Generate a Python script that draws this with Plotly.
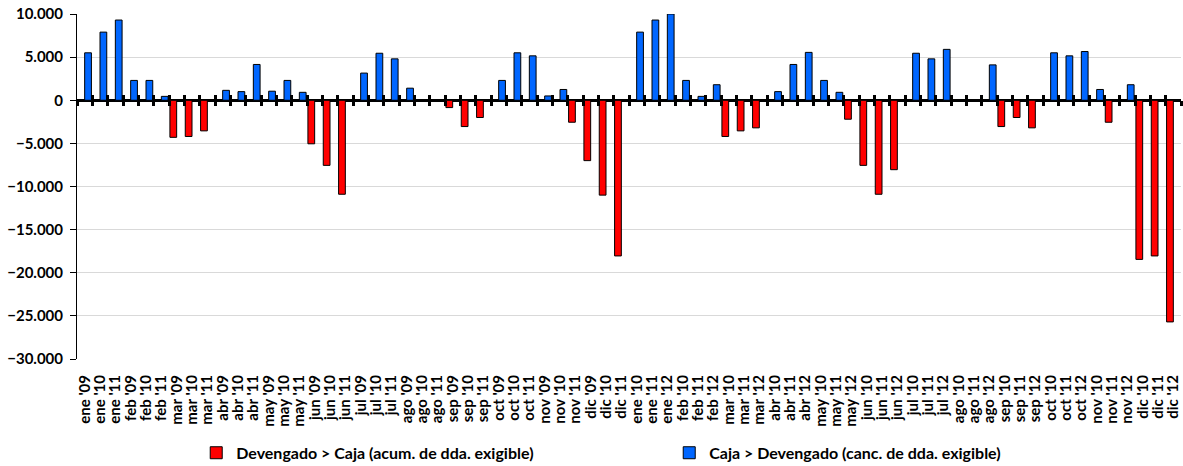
import plotly.graph_objects as go

months = ["ene", "feb", "mar", "abr", "may", "jun", "jul", "ago", "sep", "oct", "nov", "dic"]
years_block1 = ["09", "10", "11"]
years_block2 = ["10", "11", "12"]

labels = [f"{m} '{y}" for m in months for y in years_block1] + \
         [f"{m} '{y}" for m in months for y in years_block2]

# Devengado > Caja (acum. de dda. exigible)
red_vals = [
    None, None, None, None, None, None, -4300, -4200, -3550, None, None, None,
    None, None, None, -5050, -7550, -10900, None, None, None, None, None, None,
    -850, -3050, -2000, None, None, None, None, None, -2550, -7000, -11000, -18050,
    None, None, None, None, None, None, -4200, -3550, -3200, None, None, None,
    None, None, -2200, -7550, -10900, -8050, None, None, None, None, None, None,
    -3050, -2000, -3200, None, None, None, None, -2550, None, -18450, -18050, -25700,
]

# Caja > Devengado (canc. de dda. exigible)
blue_vals = [
    5500, 7900, 9300, 2300, 2300, 450, None, None, None, 1150, 1000, 4150,
    1050, 2300, 920, None, None, None, 3150, 5450, 4800, 1400, 0, 0,
    None, None, None, 2300, 5500, 5150, 500, 1250, None, None, None, None,
    7900, 9300, 10000, 2300, 450, 1800, None, None, None, 1000, 4150, 5550,
    2300, 920, None, None, None, None, 5450, 4800, 5900, 0, 0, 4100,
    None, None, None, 5500, 5150, 5650, 1250, None, 1800, None, None, None,
]

series_names = ["Devengado > Caja (acum. de dda. exigible)",
                "Caja > Devengado (canc. de dda. exigible)"]

FONT = "Lato"
idx = list(range(len(labels)))

fig = go.Figure()
fig.add_trace(go.Bar(x=idx, y=red_vals, name=series_names[0],
                     marker=dict(color="#ff0000", line=dict(color="black", width=1))))
fig.add_trace(go.Bar(x=idx, y=blue_vals, name=series_names[1],
                     marker=dict(color="#0066ff", line=dict(color="black", width=1))))

# empty helper traces so the overlaid tick axes (category boundary ticks on the zero line) render
fig.add_trace(go.Scatter(x=[], y=[], xaxis="x2", yaxis="y", showlegend=False, hoverinfo="skip"))
fig.add_trace(go.Scatter(x=[], y=[], xaxis="x3", yaxis="y", showlegend=False, hoverinfo="skip"))

n = len(labels)
boundaries = [i - 0.5 for i in range(n + 1)]
xr = [-0.5, n - 0.5]

tick_axis_common = dict(overlaying="x", anchor="free", position=0.75, range=xr,
                        tickmode="array", tickvals=boundaries, showticklabels=False,
                        showgrid=False, zeroline=False, showline=False,
                        ticklen=5, tickwidth=2.5, tickcolor="black")

fig.update_layout(
    width=1183, height=466,
    margin=dict(l=77, r=2, t=14, b=107, autoexpand=False),
    paper_bgcolor="white", plot_bgcolor="white",
    separators=",.",
    barmode="group", bargap=0.12, bargroupgap=0,
    font=dict(family=FONT, color="black", size=12),
    xaxis=dict(range=xr, tickmode="array", tickvals=idx, ticktext=labels,
               tickangle=-90, showgrid=False, zeroline=False, showline=False, ticks="",
               automargin=False,
               tickfont=dict(family=FONT, size=15, weight="bold"), ticklabelstandoff=12),
    xaxis2=dict(ticks="outside", **tick_axis_common),
    xaxis3=dict(ticks="inside", **tick_axis_common),
    yaxis=dict(range=[-30000, 10000], dtick=5000, tickformat=",d",
               showgrid=True, gridcolor="#d9d9d9", gridwidth=1,
               zeroline=True, zerolinecolor="black", zerolinewidth=3,
               showline=True, linecolor="black", linewidth=1,
               ticks="outside", ticklen=6, tickcolor="black", automargin=False,
               tickfont=dict(family=FONT, size=15, weight="bold"), ticklabelstandoff=4),
    legend=dict(orientation="h", x=0.108, xanchor="left", y=-0.272, yanchor="middle",
                font=dict(family=FONT, size=16, weight="bold"),
                entrywidth=428, entrywidthmode="pixels", itemwidth=30,
                traceorder="normal"),
)

fig.write_html("out.html", config={"displayModeBar": False},
               post_script="document.body.style.margin='0';")
